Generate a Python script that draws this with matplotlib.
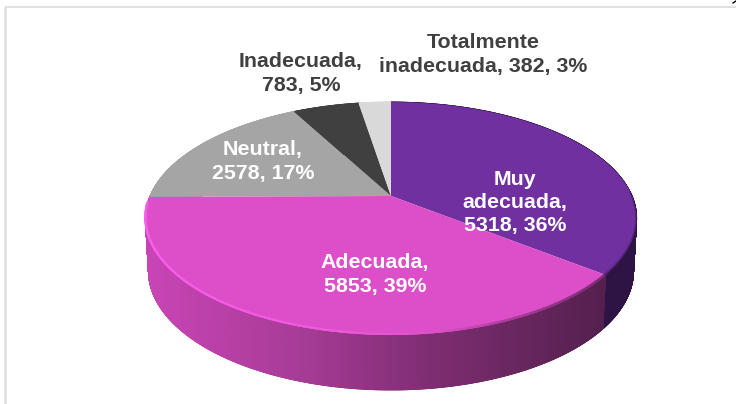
import numpy as np
import matplotlib
matplotlib.use('Agg')
import matplotlib.pyplot as plt
from matplotlib.collections import PolyCollection, LineCollection
from matplotlib.colors import LinearSegmentedColormap, to_rgb

# data, clockwise from 12 o'clock
names = ['Muy\nadecuada,', 'Adecuada,', 'Neutral,', 'Inadecuada,', 'Totalmente\ninadecuada,']
values = [5318, 5853, 2578, 783, 382]
colors = ['#7030A0', '#DC4FC8', '#A5A5A5', '#404040', '#D9D9D9']
text_colors = ['white', 'white', 'white', '#404040', '#404040']
label_sep = ['\n', '\n', '\n', '\n', ' ']
label_xy = [(515, 202.5), (375, 274.5), (263, 161.5), (301, 73.5), (483, 54.5)]

plt.rcParams['font.family'] = ['Liberation Sans', 'DejaVu Sans']

fig = plt.figure(figsize=(7.36, 4.04), dpi=100)
ax = fig.add_axes([0, 0, 1, 1])
ax.set_xlim(0, 736)
ax.set_ylim(404, 0)
ax.axis('off')

# pie in perspective
cx, cy = 391, 196
persp = 0.193


def top_xy(t):
    d = 1 + persp * np.cos(t)
    return cx + 241 * np.sin(t) / d, cy - 112.1 * np.cos(t) / d


def bottom_xy(t):
    d = 1 + persp * np.cos(t)
    return cx + 238 * np.sin(t) / d, cy + 52 - 114.6 * np.cos(t) / d


vals = np.array(values, dtype=float)
edges = np.concatenate([[0], np.cumsum(vals) / vals.sum()]) * 2 * np.pi

magenta_side = LinearSegmentedColormap.from_list(
    'side', [(0, '#C844B4'), (0.32, '#A83C98'), (0.62, '#7E2D72'), (1, '#54204E')])
purple_side = '#2E1445'

# side wall, back to front
quads = []
quad_colors = []
for i in range(len(vals)):
    ts = np.linspace(edges[i], edges[i + 1], int(600 * (edges[i + 1] - edges[i])) + 2)
    for a, b in zip(ts[:-1], ts[1:]):
        xa, ya = top_xy(a)
        xb, yb = top_xy(b)
        xc, yc = bottom_xy(b)
        xd, yd = bottom_xy(a)
        quads.append([(xa, ya), (xb, yb), (xc, yc), (xd, yd)])
        if i == 1:
            quad_colors.append(magenta_side((xa - 150) / 455))
        elif i == 0:
            quad_colors.append(to_rgb(purple_side))
        else:
            quad_colors.append(to_rgb(colors[i]))
order = sorted(range(len(quads)), key=lambda k: quads[k][0][1])
ax.add_collection(PolyCollection([quads[k] for k in order],
                                 facecolors=[quad_colors[k] for k in order],
                                 edgecolors=[quad_colors[k] for k in order], linewidths=0.6))

# top face
for i in range(len(vals)):
    ts = np.linspace(edges[i], edges[i + 1], 300)
    xs, ys = top_xy(ts)
    ax.fill(np.r_[cx, xs], np.r_[cy, ys], color=colors[i], lw=0)

# bevel along the front rim: dark on the right, bright on the left
ts = np.linspace(edges[1], edges[2] - 0.06, 500)
xs, ys = top_xy(ts)
bevel = LinearSegmentedColormap.from_list(
    'bevel', [(0, '#7A2C72'), (0.2, '#A83C98'), (0.36, '#DC4FC8'), (0.55, '#EC58D8'), (1, '#FA5CEC')])
segs = [[(xs[k], ys[k] - 1.0), (xs[k + 1], ys[k + 1] - 1.0)] for k in range(len(xs) - 1)]
lc_colors = [bevel((605 - xs[k]) / 460) for k in range(len(xs) - 1)]
ax.add_collection(LineCollection(segs, colors=lc_colors, linewidths=1.6, capstyle='round'))
ts = np.linspace(1.55, edges[1], 200)
xs, ys = top_xy(ts)
ax.plot(xs - 0.4, ys - 0.6, color='#2E1445', lw=1.4, alpha=0.45)

# labels
total = vals.sum()
for i in range(len(vals)):
    pct = round(100 * values[i] / total)
    ax.text(label_xy[i][0], label_xy[i][1], f'{names[i]}{label_sep[i]}{values[i]}, {pct}%',
            color=text_colors[i], fontsize=15.4, fontweight='bold', ha='center', va='center',
            linespacing=1.28)

# chart frame
ax.plot([5.2, 5.2], [404, 6.5], color='#DEDEDE', lw=1.8, solid_capstyle='butt')
ax.plot([4.5, 736], [7, 7], color='#D9D9D9', lw=1.1, solid_capstyle='butt')
ax.plot([733, 736], [3, 1], color='black', lw=1)

fig.savefig('out.png', dpi=100)
